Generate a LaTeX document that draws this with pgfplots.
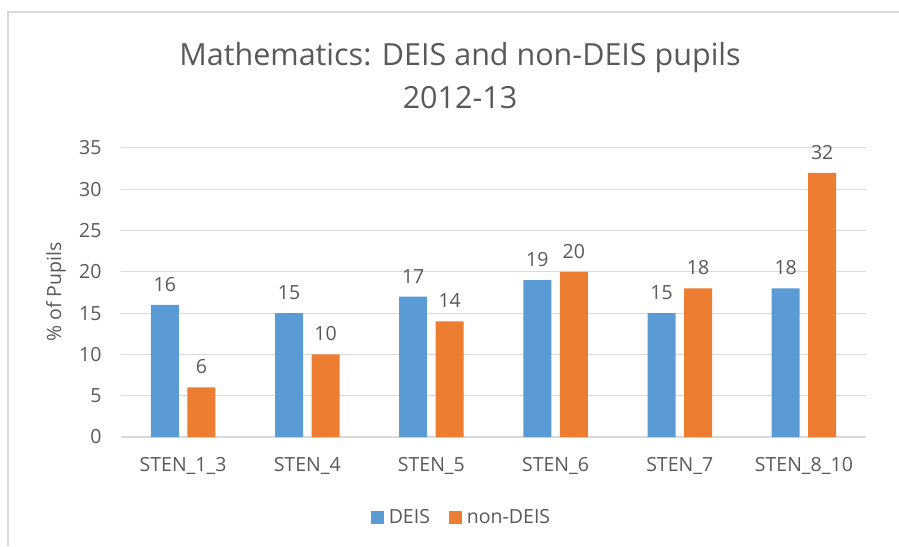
\documentclass[border=0pt]{standalone}
\usepackage{fontspec}
\setmainfont{Open Sans}
\usepackage{pgfplots}
\pgfplotsset{compat=1.18}
\definecolor{deis}{HTML}{5B9BD5}
\definecolor{nondeis}{HTML}{ED7D31}
\definecolor{txt}{HTML}{595959}
\definecolor{gridc}{HTML}{D9D9D9}
\begin{document}
\begin{tikzpicture}[x=1pt,y=1pt]
\useasboundingbox (0,0) rectangle (899,546);
\draw[gridc, line width=1.2pt] (8,0) -- (8,534) -- (899,534);
\node[txt, align=center, font=\fontsize{30.5}{43}\selectfont] at (460,470) {Mathematics: DEIS and non-DEIS pupils\\2012-13};
\node[txt, rotate=90, font=\fontsize{19.5}{22}\selectfont] at (56,254) {\% of Pupils};
\begin{axis}[
  at={(121pt,109pt)}, anchor=south west,
  scale only axis, width=745pt, height=289pt,
  xmin=-0.5, xmax=5.5, ymin=0, ymax=35,
  ybar=8.5pt, bar width=28pt,
  axis x line=bottom, axis y line=left,
  x axis line style={gridc, line width=1.5pt, -},
  y axis line style={draw=none},
  major tick length=0pt,
  ymajorgrids, grid style={gridc, line width=1pt},
  ytick={0,5,...,35},
  xtick=data,
  xticklabels={STEN\_1\_3,STEN\_4,STEN\_5,STEN\_6,STEN\_7,STEN\_8\_10},
  tick label style={txt, font=\fontsize{19.5}{22}\selectfont},
  /pgf/number format/assume math mode=true,
  yticklabel style={xshift=-16pt},
  xticklabel style={yshift=-17pt},
  nodes near coords,
  every node near coord/.append style={txt, font=\fontsize{19.5}{22}\selectfont, yshift=10pt},
  legend columns=2,
  legend style={draw=none, at={(0.459,-0.277)}, anchor=center, font=\fontsize{19.5}{22}\selectfont, text=txt,
    nodes={inner xsep=5pt},
    /tikz/every even column/.append style={column sep=14pt}},
  legend image code/.code={\fill[#1] (0pt,-6.5pt) rectangle (13pt,6.5pt);},
]
\addplot[fill=deis, draw=none] coordinates {(0,16) (1,15) (2,17) (3,19) (4,15) (5,18)};
\addplot[fill=nondeis, draw=none] coordinates {(0,6) (1,10) (2,14) (3,20) (4,18) (5,32)};
\legend{DEIS,non-DEIS}
\end{axis}
\end{tikzpicture}
\end{document}
